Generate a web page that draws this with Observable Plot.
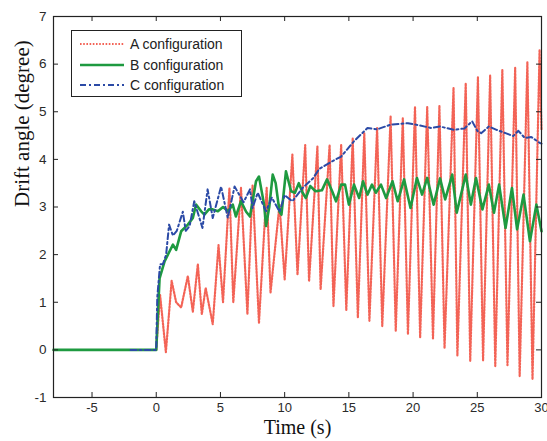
<!DOCTYPE html>
<html>
<head>
<meta charset="utf-8">
<script src="https://cdn.jsdelivr.net/npm/d3@7"></script>
<script src="https://cdn.jsdelivr.net/npm/@observablehq/plot@0.6"></script>
<style>
  html, body { margin: 0; padding: 0; background: #fff; }
  #wrap { position: relative; width: 547px; height: 441px; }
  #legend { position: absolute; left: 71px; top: 30px; width: 171px; height: 67px;
    border: 1.3px solid #222; background: #fff; box-sizing: border-box;
    font-family: "Liberation Sans", Arial, sans-serif; font-size: 14px; color: #222; }
  #legend .row { position: absolute; left: 0; height: 20px; display: flex; align-items: center; }
  #legend svg { margin-left: 8px; margin-right: 6px; }
</style>
</head>
<body>
<div id="wrap"><div id="chart"></div><div id="legend"></div></div>
<script>
// ---- data ----
const seriesNames = ["A configuration", "B configuration", "C configuration"];
const seriesColors = ["#f03c2c", "#1e9a40", "#2b4aa6"];
const xTicks = [-5, 0, 5, 10, 15, 20, 25, 30];
const yTicks = [-1, 0, 1, 2, 3, 4, 5, 6, 7];

// A configuration (red dotted): peaks and troughs
const tA = [0, 0.3, 0.75, 1.2, 1.55, 1.94, 2.46, 2.85, 3.24, 3.55, 3.85, 4.4, 4.85, 5.2, 5.7, 6.0, 6.6, 7.1, 7.5, 8.0, 8.6, 8.9, 9.6, 10.0, 10.6, 11.0, 11.6, 11.9, 12.55, 12.8, 13.5, 13.8, 14.4, 14.8, 15.3, 15.7, 16.2, 16.6, 17.2, 17.6, 18.25, 18.65, 19.2, 19.6, 20.15, 20.55, 21.1, 21.55, 22.05, 22.45, 23.15, 23.45, 24.1, 24.45, 25.05, 25.45, 26.0, 26.4, 26.95, 27.35, 27.95, 28.3, 28.9, 29.3, 29.85, 30.0];
const vA = [0, 1.15, -0.05, 1.45, 1.0, 0.89, 1.55, 0.8, 1.8, 0.75, 1.3, 0.54, 2.2, 1.0, 3.4, 1.0, 3.4, 0.75, 3.45, 0.57, 3.4, 1.2, 3.05, 1.48, 4.1, 1.58, 4.3, 1.44, 4.27, 1.27, 4.3, 0.92, 4.3, 0.84, 4.45, 0.68, 4.55, 0.61, 4.66, 0.5, 4.9, 0.4, 4.86, 0.33, 5.1, 0.26, 5.1, 0.24, 5.12, 0.04, 5.5, -0.12, 5.6, -0.23, 5.72, -0.22, 5.76, -0.34, 5.88, -0.32, 5.92, -0.55, 6.04, -0.62, 6.3, 4.6];

// B configuration (green solid)
const tB = [-8, 0, 0.1, 0.26, 0.65, 1.04, 1.3, 1.55, 1.94, 2.46, 2.85, 3.1, 3.5, 3.75, 4.1, 4.4, 4.8, 5.2, 5.6, 5.96, 6.2, 6.6, 7.0, 7.3, 7.77, 8.0, 8.4, 8.55, 8.8, 9.07, 9.3, 9.6, 9.75, 10.1, 10.5, 10.8, 11.1, 11.4, 11.65, 12.0, 12.4, 12.9, 13.3, 13.7, 14.0, 14.4, 14.7, 15.0, 15.4, 15.8, 16.1, 16.45, 16.8, 17.1, 17.5, 17.9, 18.4, 18.8, 19.3, 19.8, 20.3, 20.7, 21.1, 21.6, 22.1, 22.5, 23.05, 23.4, 24.1, 24.5, 24.9, 25.4, 25.9, 26.3, 26.7, 27.2, 27.7, 28.1, 28.6, 29.1, 29.6, 30.0];
const vB = [0, 0, 0.6, 1.5, 1.86, 2.07, 2.21, 2.1, 2.49, 2.63, 2.77, 3.05, 2.91, 2.84, 2.95, 2.95, 2.91, 3.0, 2.91, 3.05, 2.8, 3.12, 2.9, 2.8, 3.54, 3.64, 3.05, 2.6, 3.0, 3.68, 3.5, 2.9, 2.84, 3.75, 3.33, 3.3, 3.5, 3.3, 3.19, 3.44, 3.33, 3.35, 3.58, 3.33, 3.12, 3.47, 3.47, 3.05, 3.47, 3.19, 3.54, 3.26, 3.47, 3.3, 3.47, 3.19, 3.54, 3.12, 3.58, 2.98, 3.61, 3.26, 3.61, 3.05, 3.6, 3.16, 3.68, 2.88, 3.68, 3.05, 3.61, 2.95, 3.47, 2.88, 3.47, 2.56, 3.4, 2.53, 3.26, 2.28, 3.05, 2.49];

// C configuration (blue dash-dot)
const tC = [-2, 0, 0.08, 0.3, 0.52, 0.77, 1.0, 1.3, 1.6, 2.07, 2.3, 2.6, 2.96, 3.6, 4.0, 4.4, 5.05, 5.57, 6.1, 6.8, 7.3, 7.5, 7.9, 8.55, 9.0, 9.6, 10.0, 10.6, 11.4, 12.2, 12.7, 13.7, 14.4, 15.4, 16.45, 17.2, 18.26, 19.6, 20.2, 21.4, 22.1, 23.2, 24.0, 24.6, 25.0, 25.3, 25.9, 26.5, 27.2, 27.8, 28.2, 28.7, 29.2, 29.9, 30.0];
const vC = [0, 0, 1.1, 1.8, 1.8, 2.0, 2.63, 2.4, 2.5, 2.9, 2.5, 2.6, 3.12, 2.56, 3.37, 2.77, 3.43, 2.77, 3.43, 3.1, 3.37, 2.98, 3.3, 2.91, 3.2, 2.9, 3.25, 3.12, 3.4, 3.6, 3.8, 3.96, 4.06, 4.38, 4.66, 4.63, 4.73, 4.76, 4.73, 4.66, 4.69, 4.62, 4.65, 4.8, 4.6, 4.55, 4.69, 4.62, 4.55, 4.49, 4.6, 4.45, 4.47, 4.34, 4.33];

const toRows = (ts, vs) => ts.map((t, i) => ({t, v: vs[i]}));
const dataA = toRows(tA, vA), dataB = toRows(tB, vB), dataC = toRows(tC, vC);
const styles = [
  {strokeWidth: 2.2, strokeDasharray: "1.6,1.6", strokeOpacity: 0.8},
  {strokeWidth: 2.6},
  {strokeWidth: 2, strokeDasharray: "6,3,2,3"}
];

const W = 547, H = 441, mL = 53, mR = 6, mT = 16, mB = 44;
const innerW = W - mL - mR, innerH = H - mT - mB, tk = 5;
const fmt = d => String(d);

const chart = Plot.plot({
  width: W, height: H,
  marginLeft: mL, marginRight: mR, marginTop: mT, marginBottom: mB,
  style: {fontFamily: "Liberation Sans, Arial, sans-serif", color: "#2a2a2a", background: "#fff"},
  x: {domain: [-8, 30]},
  y: {domain: [-1, 7]},
  marks: [
    Plot.line(dataA, {x: "t", y: "v", stroke: seriesColors[0], ...styles[0]}),
    Plot.line(dataB, {x: "t", y: "v", stroke: seriesColors[1], ...styles[1]}),
    Plot.line(dataC, {x: "t", y: "v", stroke: seriesColors[2], ...styles[2]}),
    Plot.frame({stroke: "#222", strokeWidth: 1.2}),
    Plot.tickX(xTicks, {x: d => d, insetTop: innerH - tk, stroke: "#222"}),
    Plot.tickX(xTicks, {x: d => d, insetBottom: innerH - tk, stroke: "#222"}),
    Plot.tickY(yTicks, {y: d => d, insetRight: innerW - tk, stroke: "#222"}),
    Plot.tickY(yTicks, {y: d => d, insetLeft: innerW - tk, stroke: "#222"}),
    Plot.axisX({ticks: xTicks, tickSize: 0, tickPadding: 5, fontSize: 13, tickFormat: fmt, label: null}),
    Plot.axisY({ticks: yTicks, tickSize: 0, tickPadding: 7, fontSize: 13.5, tickFormat: fmt, label: null}),
    Plot.text(["Time (s)"], {frameAnchor: "bottom", dy: 36, fontSize: 20, fontFamily: "Liberation Serif, Times New Roman, serif", fill: "#111"}),
    Plot.text(["Drift angle (degree)"], {frameAnchor: "left", dx: -31, rotate: -90, fontSize: 21, fontFamily: "Liberation Serif, Times New Roman, serif", fill: "#111"})
  ]
});
document.getElementById("chart").appendChild(chart);

// legend
const legend = document.getElementById("legend");
seriesNames.forEach((name, i) => {
  const row = document.createElement("div");
  row.className = "row";
  row.style.top = (3 + i * 20.5) + "px";
  const s = styles[i];
  row.innerHTML = `<svg width="44" height="10"><line x1="0" y1="5" x2="44" y2="5" stroke="${seriesColors[i]}" stroke-width="${s.strokeWidth}" ${s.strokeDasharray ? `stroke-dasharray="${s.strokeDasharray}"` : ""} ${s.strokeOpacity ? `stroke-opacity="${s.strokeOpacity}"` : ""}/></svg><span>${name}</span>`;
  legend.appendChild(row);
});
</script>
</body>
</html>
